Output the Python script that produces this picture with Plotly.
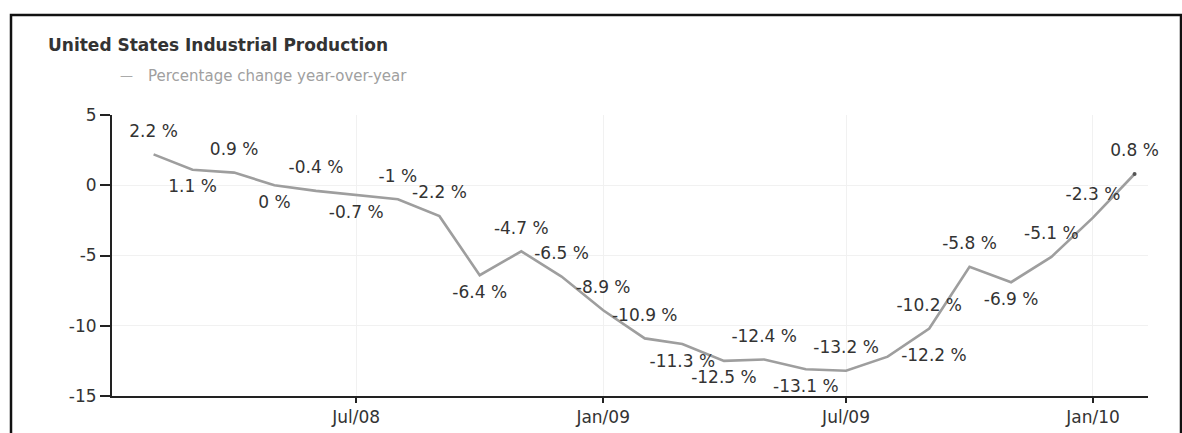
import plotly.graph_objects as go

# ---- data ----
months = ["2008-02-01", "2008-03-01", "2008-04-01", "2008-05-01", "2008-06-01",
          "2008-07-01", "2008-08-01", "2008-09-01", "2008-10-01", "2008-11-01",
          "2008-12-01", "2009-01-01", "2009-02-01", "2009-03-01", "2009-04-01",
          "2009-05-01", "2009-06-01", "2009-07-01", "2009-08-01", "2009-09-01",
          "2009-10-01", "2009-11-01", "2009-12-01", "2010-01-01", "2010-02-01"]
yoy_change = [2.2, 1.1, 0.9, 0, -0.4, -0.7, -1, -2.2, -6.4, -4.7,
              -6.5, -8.9, -10.9, -11.3, -12.5, -12.4, -13.1, -13.2, -12.2, -10.2,
              -5.8, -6.9, -5.1, -2.3, 0.8]
label_positions = ["top center", "bottom center", "top center", "bottom center", "top center",
                   "bottom center", "top center", "top center", "bottom center", "top center",
                   "top center", "top center", "top center", "bottom center", "bottom center",
                   "top center", "bottom center", "top center", "middle right", "top center",
                   "top center", "bottom center", "top center", "top center", "top center"]
x_tick_vals = ["2008-07-01", "2009-01-01", "2009-07-01", "2010-01-01"]
x_tick_text = ["Jul/08", "Jan/09", "Jul/09", "Jan/10"]
y_tick_vals = [-15, -10, -5, 0, 5]
y_tick_text = ["-15", "-10", "-5", "0", "5"]
title_text = "United States Industrial Production"
series_name = "Percentage change year-over-year"

labels = [f"{v:g} %" for v in yoy_change]
# invisible marker sizes only set the label offset from the line
label_gap = [14 if p.startswith("bottom") else 20 for p in label_positions]

FONT = "DejaVu Sans"
W, H = 1182, 433
ML, MR, MT, MB = 112, 34, 115, 37
PW, PH = W - ML - MR, H - MT - MB


def px_x(px):
    return (px - ML) / PW


def px_y(py):
    return (H - MB - py) / PH


fig = go.Figure()
fig.add_trace(go.Scatter(
    x=months, y=yoy_change,
    mode="lines+markers+text",
    name=series_name,
    line=dict(color="#9e9e9e", width=2.6),
    marker=dict(size=label_gap, color="rgba(0,0,0,0)",
                line=dict(width=0, color="rgba(0,0,0,0)")),
    text=labels,
    textposition=label_positions,
    textfont=dict(family=FONT, size=17, color="#333333"),
    cliponaxis=False,
    hoverinfo="x+y",
))
# end dot on last value
fig.add_trace(go.Scatter(
    x=months[-1:], y=yoy_change[-1:], mode="markers",
    marker=dict(size=4, color="#555555", line=dict(width=0)),
    showlegend=False, hoverinfo="skip",
))

tickfont = dict(family=FONT, size=17, color="#333333")

fig.update_layout(
    width=W, height=H,
    margin=dict(l=ML, r=MR, t=MT, b=MB, autoexpand=False),
    paper_bgcolor="white", plot_bgcolor="white",
    showlegend=False,
    font=dict(family=FONT, size=15, color="#333333"),
    title=dict(text=f"<b>{title_text}</b>", x=48 / W, xanchor="left",
               y=1 - 45 / H, yanchor="middle", xref="container", yref="container",
               font=dict(family=FONT, size=17, color="#333333"), automargin=False),
    xaxis=dict(
        type="date", range=["2008-01-01", "2010-02-11"],
        tickvals=x_tick_vals, ticktext=x_tick_text,
        showline=True, linecolor="#222222", linewidth=2,
        ticks="outside", ticklen=5, tickcolor="#222222", tickwidth=1.5,
        showgrid=True, gridcolor="#f1f1f1", gridwidth=1,
        zeroline=False, tickfont=tickfont, automargin=False,
    ),
    yaxis=dict(
        range=[-15, 5], tickvals=y_tick_vals, ticktext=y_tick_text,
        showline=True, linecolor="#222222", linewidth=2,
        ticks="outside", ticklen=10, tickcolor="#222222", tickwidth=1.5,
        showgrid=True, gridcolor="#f1f1f1", gridwidth=1,
        zeroline=False, tickfont=tickfont, automargin=False,
    ),
    shapes=[dict(type="rect", xref="paper", yref="paper",
                 x0=px_x(11), x1=px_x(1181), y0=px_y(445), y1=px_y(15),
                 line=dict(color="#111111", width=2.5), fillcolor="rgba(0,0,0,0)",
                 layer="above")],
    annotations=[
        dict(text="—", xref="paper", yref="paper", x=px_x(118), y=px_y(76),
             xanchor="left", yanchor="middle", showarrow=False,
             font=dict(family=FONT, size=13, color="#aaaaaa")),
        dict(text=series_name, xref="paper", yref="paper", x=px_x(146), y=px_y(76),
             xanchor="left", yanchor="middle", showarrow=False,
             font=dict(family=FONT, size=15, color="#a0a0a0")),
    ],
)

fig.write_html("out.html")
